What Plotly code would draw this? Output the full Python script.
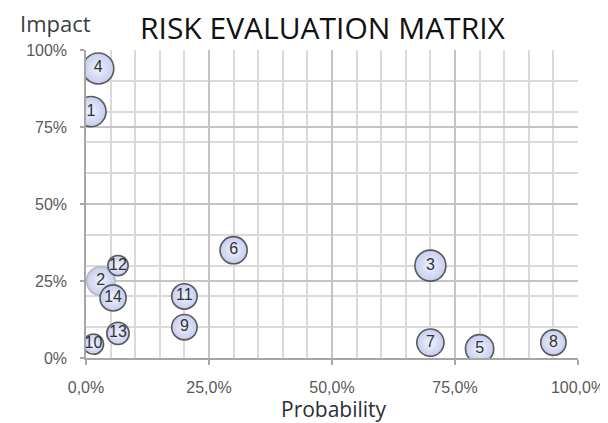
import plotly.graph_objects as go

# Risk data
risk_ids = ["1", "2", "3", "4", "5", "6", "7", "8", "9", "10", "11", "12", "13", "14"]
probability = [0.01, 0.03, 0.70, 0.025, 0.80, 0.30, 0.70, 0.95, 0.20, 0.015, 0.20, 0.065, 0.065, 0.055]
impact = [0.80, 0.25, 0.30, 0.94, 0.03, 0.35, 0.05, 0.05, 0.10, 0.045, 0.20, 0.30, 0.08, 0.195]
weight = [9.5, 8.5, 10, 10, 8.3, 7.7, 7.7, 6.7, 6.7, 4.3, 6.7, 4.3, 5.2, 7.1]

x_tick_vals = [0, 0.25, 0.5, 0.75, 1.0]
y_tick_vals = [0, 0.25, 0.5, 0.75, 1.0]

max_d = 31
line_colors = ["#5a5a5a"] * len(risk_ids)
line_colors[1] = "#b8b8b8"

fig = go.Figure()
fig.add_trace(go.Scatter(
    x=probability, y=impact, mode="markers",
    marker=dict(
        size=weight, sizemode="area",
        sizeref=2.0 * max(weight) / (max_d ** 2),
        color="#c6cdef",
        gradient=dict(type="radial", color="#f0f2fd"),
        line=dict(color=line_colors, width=1.6),
        opacity=1,
    ),
    cliponaxis=True, hoverinfo="skip", showlegend=False,
))
fig.add_trace(go.Scatter(
    x=probability, y=impact, mode="text", text=risk_ids,
    textposition="middle center",
    textfont=dict(family="Liberation Sans", size=16, color="#333333"),
    cliponaxis=False, hoverinfo="skip", showlegend=False,
))

axis_font = dict(family="Liberation Sans", size=16, color="#595959")

# The page body adds an 8px offset, so the figure is 600x415 placed at (8, 8)
fig.update_layout(
    width=600, height=415,
    margin=dict(l=78, r=30, t=42, b=65, autoexpand=False),
    paper_bgcolor="white", plot_bgcolor="white",
    separators=",.",
    xaxis=dict(
        range=[0, 1], tickvals=x_tick_vals, tickformat=".1%",
        showgrid=True, gridcolor="#c4c4c4", gridwidth=1.5,
        minor=dict(dtick=0.05, tick0=0, showgrid=True, gridcolor="#dadada", gridwidth=1.5, ticks=""),
        ticks="outside", ticklen=5, tickcolor="#a6a6a6", tickwidth=1.5,
        showline=True, linecolor="#a6a6a6", linewidth=1.5,
        zeroline=False, tickfont=axis_font, ticklabelstandoff=9,
        automargin=False, fixedrange=True,
    ),
    yaxis=dict(
        range=[0, 1], tickvals=y_tick_vals, tickformat=".0%",
        showgrid=True, gridcolor="#c4c4c4", gridwidth=1.5,
        minor=dict(dtick=0.1, tick0=0, showgrid=True, gridcolor="#dadada", gridwidth=1.5, ticks=""),
        ticks="outside", ticklen=4, tickcolor="#a6a6a6", tickwidth=1.5,
        showline=True, linecolor="#a6a6a6", linewidth=1.5,
        zeroline=False, tickfont=axis_font, ticklabelstandoff=10,
        automargin=False, fixedrange=True,
    ),
    annotations=[
        dict(text="RISK EVALUATION MATRIX", xref="paper", yref="paper",
             x=0.482, y=1.072, xanchor="center", yanchor="middle", showarrow=False,
             font=dict(family="Open Sans", size=30, color="#111111")),
        dict(text="Impact", xref="paper", yref="paper",
             x=-0.138, y=1.088, xanchor="left", yanchor="middle", showarrow=False,
             font=dict(family="Open Sans", size=22, color="#3a3f45")),
        dict(text="Probability", xref="paper", yref="paper",
             x=0.504, y=-0.166, xanchor="center", yanchor="middle", showarrow=False,
             font=dict(family="Open Sans", size=21, color="#2a2f35")),
    ],
)

fig.write_html("out.html")
